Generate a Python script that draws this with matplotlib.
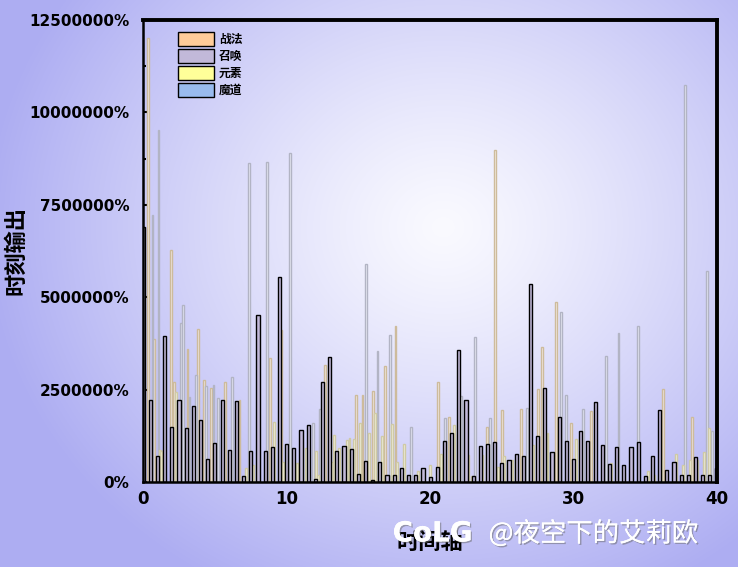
import numpy as np
import matplotlib
matplotlib.use("Agg")
import matplotlib.pyplot as plt
import matplotlib.patheffects as pe
from matplotlib.patches import Patch
from matplotlib.colors import to_rgba
from matplotlib.ticker import FuncFormatter, MultipleLocator

plt.rcParams['font.family'] = ['Noto Sans CJK SC', 'DejaVu Sans']

# values in millions of %
summon_vals = [6.9, 2.22, 0.70, 3.95, 1.50, 2.22, 1.46, 2.06, 1.68, 0.62,
               1.05, 2.22, 0.87, 2.19, 0.16, 0.84, 4.52, 0.84, 0.95, 5.55,
               1.03, 0.92, 1.41, 1.54, 0.08, 2.70, 3.39, 0.84, 0.97, 0.88,
               0.22, 0.57, 0.05, 0.53, 0.20, 0.20, 0.37, 0.20, 0.20, 0.37,
               0.14, 0.40, 1.11, 1.32, 3.57, 2.22, 0.16, 0.96, 1.02, 1.08,
               0.50, 0.60, 0.76, 0.70, 5.35, 1.24, 2.53, 0.81, 1.75, 1.11,
               0.62, 1.38, 1.11, 2.17, 1.00, 0.49, 0.94, 0.46, 0.94, 1.07,
               0.16, 0.70, 1.95, 0.32, 0.54, 0.19, 0.19, 0.68, 0.19, 0.19,
               0.38]
summon_t = [0.5 * k for k in range(len(summon_vals))]

zhanfa_t = [0.35, 0.77, 1.93, 2.16, 3.09, 3.85, 4.24, 4.71, 5.73, 6.71,
            8.73, 8.84, 9.63, 12.69, 14.85, 15.29, 16.0, 16.87, 17.59, 20.56,
            21.32, 23.97, 24.52, 25.03, 26.31, 27.52, 27.8, 28.77, 29.81, 31.22,
            36.26, 38.23, 39.97]
zhanfa_v = [12.0, 3.86, 6.28, 2.71, 3.59, 4.13, 2.76, 2.53, 2.70, 2.22,
            2.22, 3.35, 4.11, 3.17, 2.35, 2.35, 2.46, 3.14, 4.22, 2.70,
            1.77, 1.50, 8.98, 1.95, 1.98, 2.51, 3.64, 4.88, 1.59, 1.92,
            2.51, 1.77, 1.88]

modao_t = [0.65, 1.07, 2.62, 2.76, 3.23, 3.69, 4.38, 4.90, 5.22, 6.22,
           7.38, 8.61, 10.21, 11.83, 12.30, 15.55, 16.33, 17.19, 18.68, 21.04,
           22.18, 23.13, 24.18, 26.75, 29.12, 29.5, 30.64, 32.27, 33.13, 34.5,
           37.77, 39.28, 39.65]
modao_v = [7.22, 9.52, 4.31, 4.79, 2.31, 2.90, 2.6, 2.62, 2.27, 2.84,
           8.62, 8.67, 8.91, 1.60, 1.97, 5.89, 3.54, 3.98, 1.50, 1.72,
           2.33, 3.93, 1.72, 1.99, 4.61, 2.34, 1.97, 3.41, 4.03, 4.22,
           10.73, 5.72, 1.38]

yuansu_t = [1.15, 1.25, 2.28, 7.17, 7.68, 9.10, 9.77, 10.74, 10.86, 11.32,
            12.02, 12.18, 13.18, 13.29, 13.67, 14.22, 14.38, 14.69, 15.1, 15.73,
            16.16, 16.66, 17.33, 17.7, 18.21, 19.14, 19.5, 20.02, 20.76, 21.64,
            22.67, 22.92, 23.64, 24.73, 25.17, 25.68, 27.2, 28.18, 30.16, 32.6,
            33.5, 35.17, 35.6, 36.1, 37.14, 37.6, 38.1, 38.58, 39.09, 39.46]
yuansu_v = [0.87, 0.84, 2.44, 0.37, 0.46, 1.62, 0.55, 0.50, 0.50, 0.91,
            0.84, 0.2, 0.55, 1.27, 0.91, 1.14, 1.19, 1.16, 1.59, 1.32,
            1.87, 1.23, 1.56, 0.55, 1.03, 0.30, 0.30, 0.45, 0.75, 1.54,
            0.73, 0.15, 0.73, 0.40, 0.70, 0.60, 1.00, 1.33, 1.15, 0.50,
            0.25, 0.30, 0.20, 0.60, 0.76, 0.46, 0.60, 0.60, 0.80, 1.47]

labels = ['战法', '召唤', '元素', '魔道']
colors = ['#FFCC99', '#C2B9D9', '#FFFF99', '#99BBEE']

fig = plt.figure(figsize=(7.38, 5.67), dpi=100)

# background radial gradient
bg = fig.add_axes([0, 0, 1, 1], zorder=-10)
h, w = 567, 738
yy, xx = np.mgrid[0:h, 0:w]
r = np.sqrt(((xx / w - 0.6) / 0.62) ** 2 + ((yy / h - 0.4) / 0.72) ** 2)
r = np.clip(r, 0, 1) ** 1.2
c0 = np.array([0.98, 0.98, 1.0])
c1 = np.array([0.68, 0.68, 0.95])
img = c0[None, None, :] + (c1 - c0)[None, None, :] * r[:, :, None]
bg.imshow(img, aspect='auto', extent=[0, 1, 0, 1])
bg.axis('off')

ax = fig.add_axes([0.194, 0.150, 0.7776, 0.8147])
ax.set_facecolor('none')

# light series: pale fill, visible thin edge
ax.bar(zhanfa_t, zhanfa_v, width=0.13, color=to_rgba('#FFF4E6', 0.8),
       edgecolor='#cdbb9c', linewidth=1, zorder=2)
ax.bar(modao_t, modao_v, width=0.13, color=to_rgba('#F4F6FC', 0.8),
       edgecolor='#b2b4c4', linewidth=1, zorder=2)
ax.bar(yuansu_t, yuansu_v, width=0.13, color=to_rgba('#FFFDE0', 0.8),
       edgecolor='#cfcaa6', linewidth=1, zorder=2)
ax.bar(summon_t, summon_vals, width=0.22, color=colors[1],
       edgecolor='black', linewidth=1.0, zorder=3)

ax.set_xlim(0, 40)
ax.set_ylim(0, 12.5)
ax.yaxis.set_major_locator(MultipleLocator(2.5))
ax.yaxis.set_minor_locator(MultipleLocator(1.25))
ax.xaxis.set_major_locator(MultipleLocator(10))
ax.yaxis.set_major_formatter(FuncFormatter(lambda v, p: f"{v * 1e6:.0f}%"))
ax.tick_params(axis='y', direction='in', length=3, width=1.5, pad=10)
ax.tick_params(axis='y', which='minor', direction='in', length=2, width=1.5)
ax.tick_params(axis='x', direction='in', length=0, pad=6)
for lab in ax.get_yticklabels():
    lab.set_fontweight('bold')
    lab.set_fontsize(11)
    lab.set_family('DejaVu Sans')
for lab in ax.get_xticklabels():
    lab.set_fontweight('bold')
    lab.set_fontsize(12)
    lab.set_family('DejaVu Sans')

for s in ['left', 'bottom']:
    ax.spines[s].set_linewidth(1.8)
for s in ['top', 'right']:
    ax.spines[s].set_linewidth(2.8)
for s in ax.spines.values():
    s.set_zorder(5)

ax.set_ylabel('时刻输出', fontsize=16, fontweight='bold', labelpad=1)
ax.set_xlabel('时间轴', fontsize=16, fontweight='bold', labelpad=16)

handles = [Patch(facecolor=c, edgecolor='black', linewidth=1) for c in colors]
ax.legend(handles, labels, loc='upper left', bbox_to_anchor=(0.052, 0.985),
          frameon=False, prop={'size': 8.5, 'weight': 'bold'},
          handlelength=3.1, handleheight=1.45, labelspacing=0.25,
          handletextpad=0.4, borderaxespad=0)

shadow = [pe.withSimplePatchShadow(offset=(1, -1), shadow_rgbFace='#666666', alpha=0.5), pe.Normal()]
fig.text(0.532, 0.045, 'CoLG', color='white', fontsize=20, fontweight='bold',
         family='DejaVu Sans', path_effects=shadow, zorder=20)
fig.text(0.662, 0.045, '@夜空下的艾莉欧', color='white', fontsize=19,
         path_effects=shadow, zorder=20)

fig.savefig('out.png', dpi=100)
